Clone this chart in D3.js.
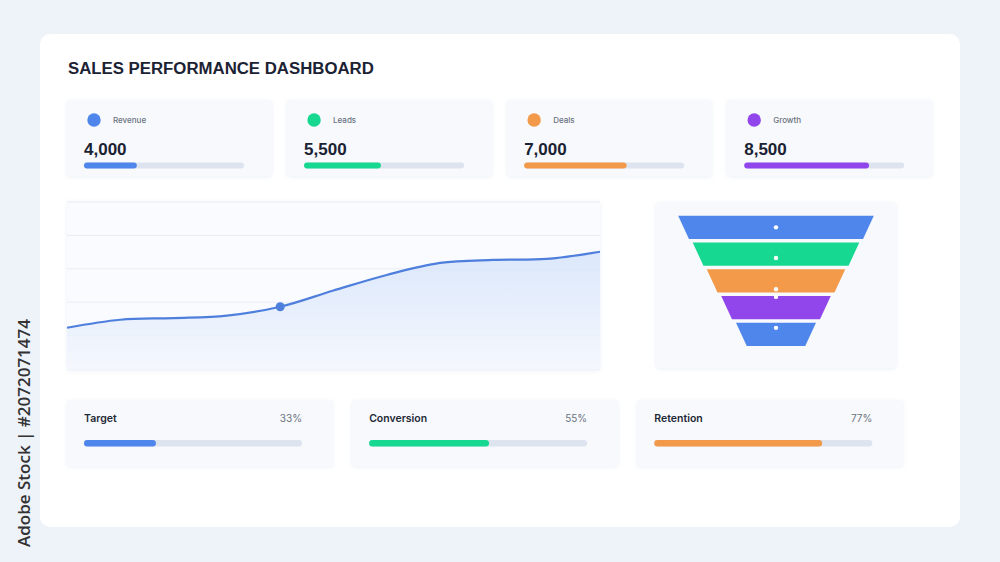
<!DOCTYPE html>
<html>
<head>
<meta charset="utf-8">
<script src="https://cdn.jsdelivr.net/npm/d3@7"></script>
<style>
  body { margin: 0; background: #eef2f9; }
  svg { display: block; }
</style>
</head>
<body>
<div id="chart-area"></div>
<script>
// ---- data ----
var kpiNames = ["Revenue", "Leads", "Deals", "Growth"];
var kpiValues = [4000, 5500, 7000, 8500];
var kpiFill = [0.33, 0.48, 0.64, 0.78];

var trendX = [0, 1, 2, 3, 4, 5, 6, 7, 8, 9, 10];
var trendValues = [24.7, 29.5, 30.5, 32, 37.3, 47, 56.3, 63.5, 65.3, 65.9, 70.2];
var markerIndex = 4;
var gridTicks = [0, 20, 40, 60, 80, 100];

var funnelStages = ["Stage 1", "Stage 2", "Stage 3", "Stage 4", "Stage 5"];
var funnelValues = [100, 85.2, 70.8, 56, 40.9];
var funnelDots = [0.5, 0.67, 0.86, 0.04, 0.22];

var goalNames = ["Target", "Conversion", "Retention"];
var goalValues = [33, 55, 77];

var palette = ["#4f86ec", "#17d890", "#f2994a", "#9146ec"];
var goalColors = ["#4f86ec", "#17d890", "#f2994a"];

var width = 1000, height = 562;

var svg = d3.select("#chart-area").append("svg")
    .attr("width", width)
    .attr("height", height);

var defs = svg.append("defs");
var grad = defs.append("linearGradient")
    .attr("id", "areaFill")
    .attr("x1", 0).attr("y1", 0).attr("x2", 0).attr("y2", 1);
grad.append("stop").attr("offset", "0%").attr("stop-color", "#d6e4fb");
grad.append("stop").attr("offset", "100%").attr("stop-color", "#f4f7fd");

var shadow = defs.append("filter").attr("id", "soft")
    .attr("x", "-10%").attr("y", "-20%").attr("width", "120%").attr("height", "140%");
shadow.append("feDropShadow")
    .attr("dx", 0).attr("dy", 1).attr("stdDeviation", 2)
    .attr("flood-color", "#c8d2e6").attr("flood-opacity", 0.35);

// background + main card
svg.append("rect").attr("width", width).attr("height", height).attr("fill", "#eef2f9");
svg.append("rect")
    .attr("x", 40).attr("y", 34).attr("width", 920).attr("height", 493)
    .attr("rx", 10).attr("fill", "#ffffff");

// side label
svg.append("text")
    .attr("transform", "translate(30,433) rotate(-90)")
    .attr("text-anchor", "middle")
    .attr("font-family", "'Open Sans', sans-serif")
    .attr("font-weight", 600)
    .attr("font-size", 17)
    .attr("fill", "#333333")
    .text("Adobe Stock | #2072071474");

// title
svg.append("text")
    .attr("x", 68).attr("y", 73.5)
    .attr("font-family", "'Liberation Sans', Arial, sans-serif")
    .attr("font-weight", "bold")
    .attr("font-size", 16.8)
    .attr("fill", "#1b2233")
    .text("SALES PERFORMANCE DASHBOARD");

// ---- KPI cards ----
var kx = d3.scaleBand().domain(kpiNames).range([67, 932]).paddingInner(0.0695);
var kBar = d3.scaleLinear().domain([0, 1]).range([0, 160]);

var kpi = svg.selectAll(".kpi").data(kpiNames).enter()
    .append("g")
    .attr("class", "kpi")
    .attr("transform", function(d) { return "translate(" + kx(d) + ",100)"; });

kpi.append("rect")
    .attr("width", kx.bandwidth()).attr("height", 76)
    .attr("rx", 3).attr("fill", "#f7f9fc")
    .attr("filter", "url(#soft)");

kpi.append("circle")
    .attr("cx", 27).attr("cy", 20).attr("r", 6.7)
    .attr("fill", function(d, i) { return palette[i]; });

kpi.append("text")
    .attr("x", 46).attr("y", 22.8)
    .attr("font-family", "Inter, sans-serif")
    .attr("font-weight", 500)
    .attr("font-size", 8)
    .attr("fill", "#6b7280")
    .text(function(d) { return d; });

kpi.append("text")
    .attr("x", 17).attr("y", 54.5)
    .attr("font-family", "'Liberation Sans', Arial, sans-serif")
    .attr("font-weight", "bold")
    .attr("font-size", 17)
    .attr("fill", "#1b2233")
    .text(function(d, i) { return d3.format(",")(kpiValues[i]); });

kpi.append("rect")
    .attr("x", 17).attr("y", 62.5)
    .attr("width", kBar(1)).attr("height", 6).attr("rx", 3)
    .attr("fill", "#dde4f0");

kpi.append("rect")
    .attr("x", 17).attr("y", 62.5)
    .attr("width", function(d, i) { return kBar(kpiFill[i]); })
    .attr("height", 6).attr("rx", 3)
    .attr("fill", function(d, i) { return palette[i]; });

// ---- trend chart ----
var tx = d3.scaleLinear().domain([0, 10]).range([67, 600]);
var ty = d3.scaleLinear().domain([0, 100]).range([369, 202]);

svg.append("rect")
    .attr("x", 67).attr("y", 201).attr("width", 533).attr("height", 169)
    .attr("fill", "#f9fbfe")
    .attr("filter", "url(#soft)");

svg.append("g").selectAll("line").data(gridTicks).enter()
    .append("line")
    .attr("x1", 67).attr("x2", 600)
    .attr("y1", function(d) { return ty(d); })
    .attr("y2", function(d) { return ty(d); })
    .attr("stroke", "#e8edf6")
    .attr("stroke-width", 1);

var area = d3.area()
    .x(function(d, i) { return tx(trendX[i]); })
    .y0(ty(0))
    .y1(function(d) { return ty(d); })
    .curve(d3.curveCatmullRom.alpha(0.5));

var line = d3.line()
    .x(function(d, i) { return tx(trendX[i]); })
    .y(function(d) { return ty(d); })
    .curve(d3.curveCatmullRom.alpha(0.5));

svg.append("path")
    .datum(trendValues)
    .attr("d", area)
    .attr("fill", "url(#areaFill)")
    .attr("opacity", 0.85);

svg.append("path")
    .datum(trendValues)
    .attr("d", line)
    .attr("fill", "none")
    .attr("stroke", "#4f7fdc")
    .attr("stroke-width", 2.2);

svg.append("circle")
    .attr("cx", tx(trendX[markerIndex]))
    .attr("cy", ty(trendValues[markerIndex]))
    .attr("r", 4.5)
    .attr("fill", "#4f7fdc");

// ---- funnel ----
svg.append("rect")
    .attr("x", 656).attr("y", 202).attr("width", 240).attr("height", 166)
    .attr("rx", 4).attr("fill", "#f7f9fc")
    .attr("filter", "url(#soft)");

var fy = d3.scaleBand().domain(funnelStages).range([215.7, 346]).paddingInner(0.129);
var fw = d3.scaleLinear().domain([0, 100]).range([0, 97.8]);
var cx = 776;
var taper = 11;

svg.selectAll(".stage").data(funnelStages).enter()
    .append("path")
    .attr("class", "stage")
    .attr("d", function(d, i) {
        var top = fy(d), bot = fy(d) + fy.bandwidth();
        var wt = fw(funnelValues[i]), wb = fw(funnelValues[i] - taper);
        return "M" + (cx - wt) + "," + top + "L" + (cx + wt) + "," + top +
               "L" + (cx + wb) + "," + bot + "L" + (cx - wb) + "," + bot + "Z";
    })
    .attr("fill", function(d, i) { return palette[i % 4]; });

svg.selectAll(".fdot").data(funnelStages).enter()
    .append("circle")
    .attr("class", "fdot")
    .attr("cx", cx)
    .attr("cy", function(d, i) { return fy(d) + fy.bandwidth() * funnelDots[i]; })
    .attr("r", 2.2)
    .attr("fill", "#ffffff");

// ---- goal cards ----
var gx = d3.scaleBand().domain(goalNames).range([67, 903]).paddingInner(0.068);
var gBar = d3.scaleLinear().domain([0, 100]).range([0, 218]);

var goal = svg.selectAll(".goal").data(goalNames).enter()
    .append("g")
    .attr("class", "goal")
    .attr("transform", function(d) { return "translate(" + gx(d) + ",400)"; });

goal.append("rect")
    .attr("width", gx.bandwidth()).attr("height", 66)
    .attr("rx", 3).attr("fill", "#f7f9fc")
    .attr("filter", "url(#soft)");

goal.append("text")
    .attr("x", 17).attr("y", 22)
    .attr("font-family", "Inter, sans-serif")
    .attr("font-weight", 600)
    .attr("font-size", 10.5)
    .attr("fill", "#1f2937")
    .text(function(d) { return d; });

goal.append("text")
    .attr("x", 235).attr("y", 22)
    .attr("text-anchor", "end")
    .attr("font-family", "Inter, sans-serif")
    .attr("font-size", 10)
    .attr("fill", "#6b7280")
    .text(function(d, i) { return goalValues[i] + "%"; });

goal.append("rect")
    .attr("x", 17).attr("y", 40)
    .attr("width", gBar(100)).attr("height", 6.5).attr("rx", 3.25)
    .attr("fill", "#dde4f0");

goal.append("rect")
    .attr("x", 17).attr("y", 40)
    .attr("width", function(d, i) { return gBar(goalValues[i]); })
    .attr("height", 6.5).attr("rx", 3.25)
    .attr("fill", function(d, i) { return goalColors[i]; });
</script>
</body>
</html>
